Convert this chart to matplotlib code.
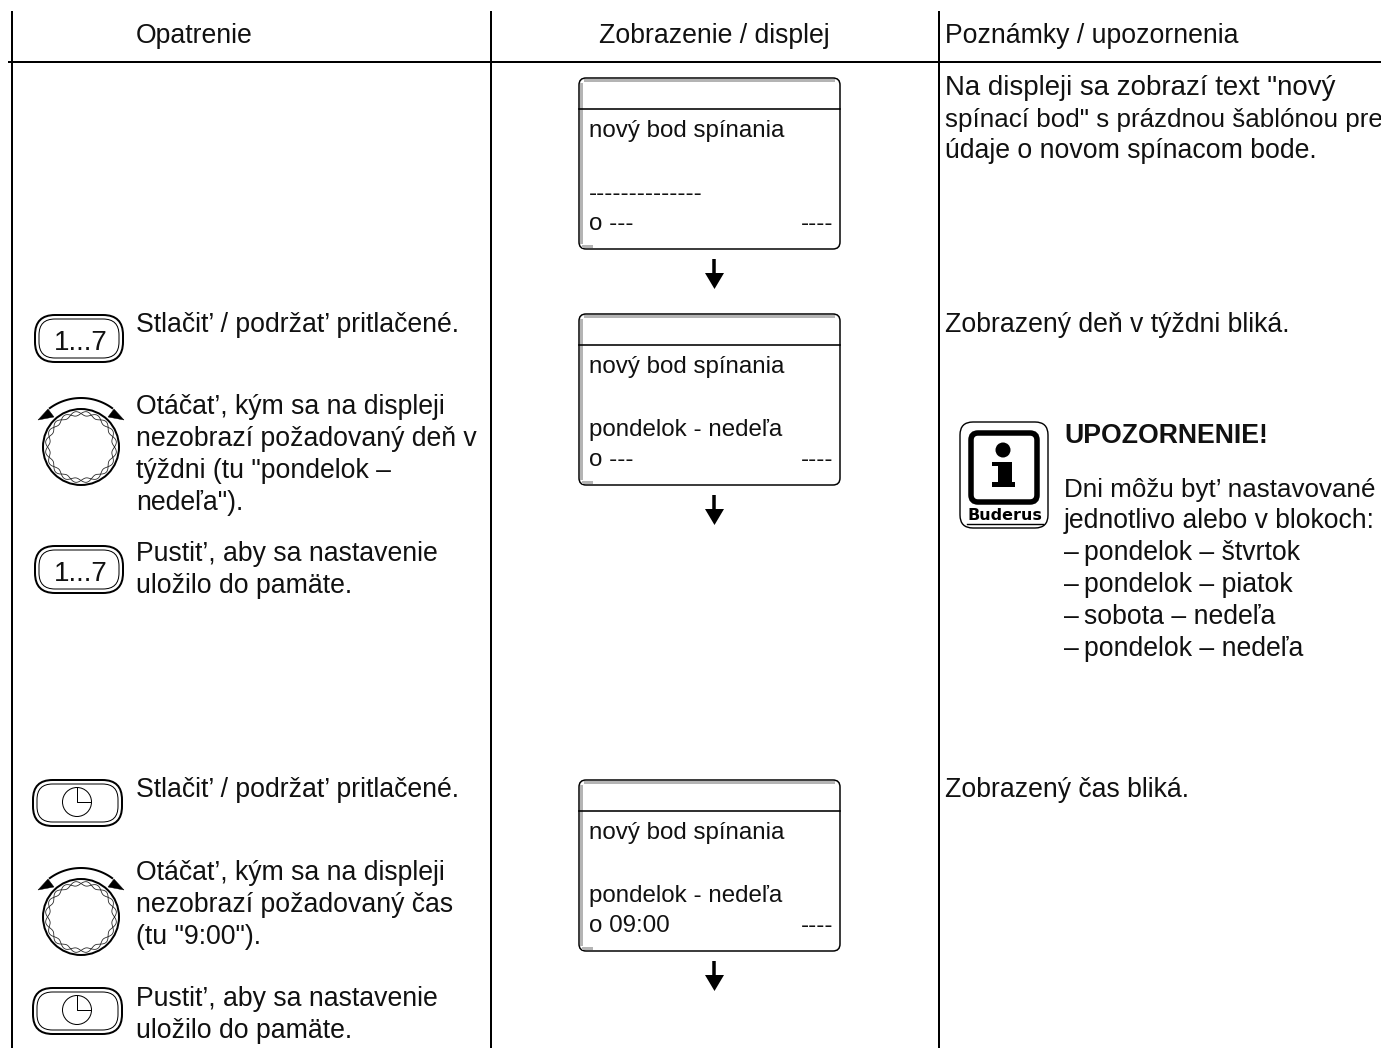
import numpy as np
import matplotlib
matplotlib.use("Agg")
import matplotlib.pyplot as plt
from matplotlib.patches import FancyBboxPatch, Circle, Rectangle, Polygon

plt.rcParams["font.family"] = ["Liberation Sans", "DejaVu Sans"]

W, H = 1381, 1048
FS = 19.2
FS_DISPLAY = 17.4

headers = ["Opatrenie", "Zobrazenie / displej", "Poznámky / upozornenia"]
step_days_press = ["Stlačit’ / podržat’ pritlačené."]
step_days_turn = ["Otáčat’, kým sa na displeji", "nezobrazí požadovaný deň v", "týždni (tu \"pondelok –", "nedeľa\")."]
step_days_release = ["Pustit’, aby sa nastavenie", "uložilo do pamäte."]
step_time_press = ["Stlačit’ / podržat’ pritlačené."]
step_time_turn = ["Otáčat’, kým sa na displeji", "nezobrazí požadovaný čas", "(tu \"9:00\")."]
step_time_release = ["Pustit’, aby sa nastavenie", "uložilo do pamäte."]

display_title = "nový bod spínania"
display_days = ["--------------", "pondelok - nedeľa", "pondelok - nedeľa"]
display_times = ["o ---", "o ---", "o 09:00"]
display_end = "----"

note_intro = ["Na displeji sa zobrazí text \"nový", "spínací bod\" s prázdnou šablónou pre", "údaje o novom spínacom bode."]
note_day = "Zobrazený deň v týždni bliká."
note_time = "Zobrazený čas bliká."
warn_title = "UPOZORNENIE!"
warn_text = ["Dni môžu byt’ nastavované", "jednotlivo alebo v blokoch:"]
warn_items = ["pondelok – štvrtok", "pondelok – piatok", "sobota – nedeľa", "pondelok – nedeľa"]

fig = plt.figure(figsize=(W / 100, H / 100), dpi=100)
ax = fig.add_axes([0, 0, 1, 1])
ax.set_xlim(0, W)
ax.set_ylim(H, 0)
ax.axis("off")


def px(w):
    return w * 0.72


def txt(x, y, s, **kw):
    kw.setdefault("fontsize", FS)
    kw.setdefault("color", "#111111")
    ax.text(x, y, s, va="baseline", **kw)


def block(x, ys, lines, sizes=None):
    sizes = sizes or [FS] * len(lines)
    for y, s, fs in zip(ys, lines, sizes):
        txt(x, y, s, fontsize=fs)


def rbox(x0, y0, x1, y1, r, lw, fc="white", ec="black", z=2):
    p = FancyBboxPatch((x0 + r, y0 + r), x1 - x0 - 2 * r, y1 - y0 - 2 * r,
                       boxstyle=f"round,pad={r},rounding_size={r}",
                       fc=fc, ec=ec, lw=px(lw), zorder=z)
    ax.add_patch(p)


def key_shape(x0, y0, x1, y1):
    r = (y1 - y0) / 2 * 0.85
    rbox(x0, y0, x1, y1, r, 2.0)
    rbox(x0 + 4, y0 + 4, x1 - 4, y1 - 4, r - 4, 1.0, z=3)


def key_days(y0):
    key_shape(35, y0, 123, y0 + 47)
    ax.text(81, y0 + 35, "1...7", fontsize=20, ha="center", va="baseline", zorder=4, color="#111111")


def key_clock(y0):
    key_shape(33, y0, 122, y0 + 46)
    cx, cy = 77, y0 + 22
    ax.add_patch(Circle((cx, cy), 14.5, fc="white", ec="black", lw=px(1), zorder=4))
    ax.plot([cx, cx, cx + 14.5], [cy - 14.5, cy, cy], color="black", lw=px(1), zorder=5)


def knob(cx, cy):
    ax.add_patch(Circle((cx, cy), 38, fc="white", ec="black", lw=px(2), zorder=2))
    t = np.linspace(0, 2 * np.pi, 720)
    n = 20
    bump = 2.2 * np.abs(np.sin(n * t / 2))
    for r in (33.5 - bump, 33.5 + bump):
        ax.plot(cx + r * np.cos(t), cy + r * np.sin(t), color="#222222", lw=px(0.8), zorder=3)
    # arc with the two arrow heads over the knob
    ang = np.radians(np.linspace(234, 306, 60))
    ax.plot(cx + 53 * np.cos(ang), cy + 4 + 53 * np.sin(ang), color="black", lw=px(2), zorder=3)
    for sgn in (-1, 1):
        ax.add_patch(Polygon([(cx + sgn * 43, cy - 27), (cx + sgn * 33, cy - 38), (cx + sgn * 27, cy - 30)],
                             fc="black", ec="black", lw=0.3, zorder=4))


def display(y0, day, tm):
    x0, x1 = 579, 840
    y1 = y0 + 171
    rbox(x0, y0, x1, y1, 7, 1.5)
    ax.add_patch(Rectangle((x0 + 5, y0 + 1), x1 - x0 - 10, 3, fc="#b4b4b4", ec="none", zorder=3))
    ax.add_patch(Rectangle((x0 + 1, y0 + 5), 3.5, y1 - y0 - 10, fc="#b4b4b4", ec="none", zorder=3))
    ax.add_patch(Rectangle((x0 + 3, y1 - 4), 11, 3, fc="#b4b4b4", ec="none", zorder=3))
    ax.plot([x0, x1], [y0 + 31, y0 + 31], color="black", lw=px(1.6), zorder=4)
    txt(589, y0 + 59, display_title, fontsize=FS_DISPLAY, zorder=5)
    txt(589, y0 + 122, day, fontsize=FS_DISPLAY, zorder=5)
    txt(589, y0 + 152, tm, fontsize=FS_DISPLAY, zorder=5)
    txt(833, y0 + 152, display_end, ha="right", fontsize=FS_DISPLAY, zorder=5)


def down_arrow(y0):
    ax.plot([714, 714], [y0, y0 + 18], color="black", lw=px(3.5), solid_capstyle="butt", zorder=3)
    ax.add_patch(Polygon([(705, y0 + 14), (724, y0 + 14), (714.5, y0 + 30)], fc="black", ec="none", zorder=4))


def info_icon():
    rbox(960, 422, 1048, 528, 13, 1.4)
    rbox(971, 433, 1037, 502, 7, 5.5, z=3)
    ax.add_patch(Circle((1003, 450), 7.5, fc="black", ec="none", zorder=4))
    ax.add_patch(Polygon([(992, 462), (1012, 462), (1012, 482), (1015, 482), (1015, 487),
                          (992, 487), (992, 482), (998, 482), (998, 466), (992, 466)],
                         fc="black", ec="none", zorder=4))
    ax.text(1005, 520, "Buderus", fontsize=11.5, fontweight="bold", ha="center", va="baseline",
            color="black", zorder=4, family="DejaVu Sans")
    ax.plot([967, 1043], [523.5, 523.5], color="black", lw=px(1.4), zorder=4)


# table rules
ax.plot([9, W], [62, 62], color="black", lw=px(2), zorder=1)
for x in [12, 491, 939]:
    ax.plot([x, x], [12, H], color="black", lw=px(2), zorder=1)

txt(194, 43, headers[0], ha="center")
txt(714, 43, headers[1], ha="center")
txt(945, 43, headers[2])

block(136, [332], step_days_press)
block(136, [414, 446, 478, 510], step_days_turn)
block(136, [561, 593], step_days_release)
block(136, [797], step_time_press)
block(136, [880, 912, 944], step_time_turn)
block(136, [1006, 1038], step_time_release)

key_days(315)
knob(81, 447)
key_days(546)
key_clock(780)
knob(81, 917)
key_clock(988)

for y0, day, tm in zip([78, 314, 780], display_days, display_times):
    display(y0, day, tm)
for y0 in [259, 495, 961]:
    down_arrow(y0)

block(945, [95, 127, 158], note_intro, sizes=[19.9, 18.7, 19.2])
txt(945, 332, note_day)
txt(945, 797, note_time)

info_icon()
txt(1064, 443, warn_title, fontweight="bold")
block(1064, [497, 528], warn_text, sizes=[18.7, 19.1])
for y, s in zip([560, 592, 624, 656], warn_items):
    txt(1064, y, "–")
    txt(1084, y, s)

fig.savefig("out.png", dpi=100)
